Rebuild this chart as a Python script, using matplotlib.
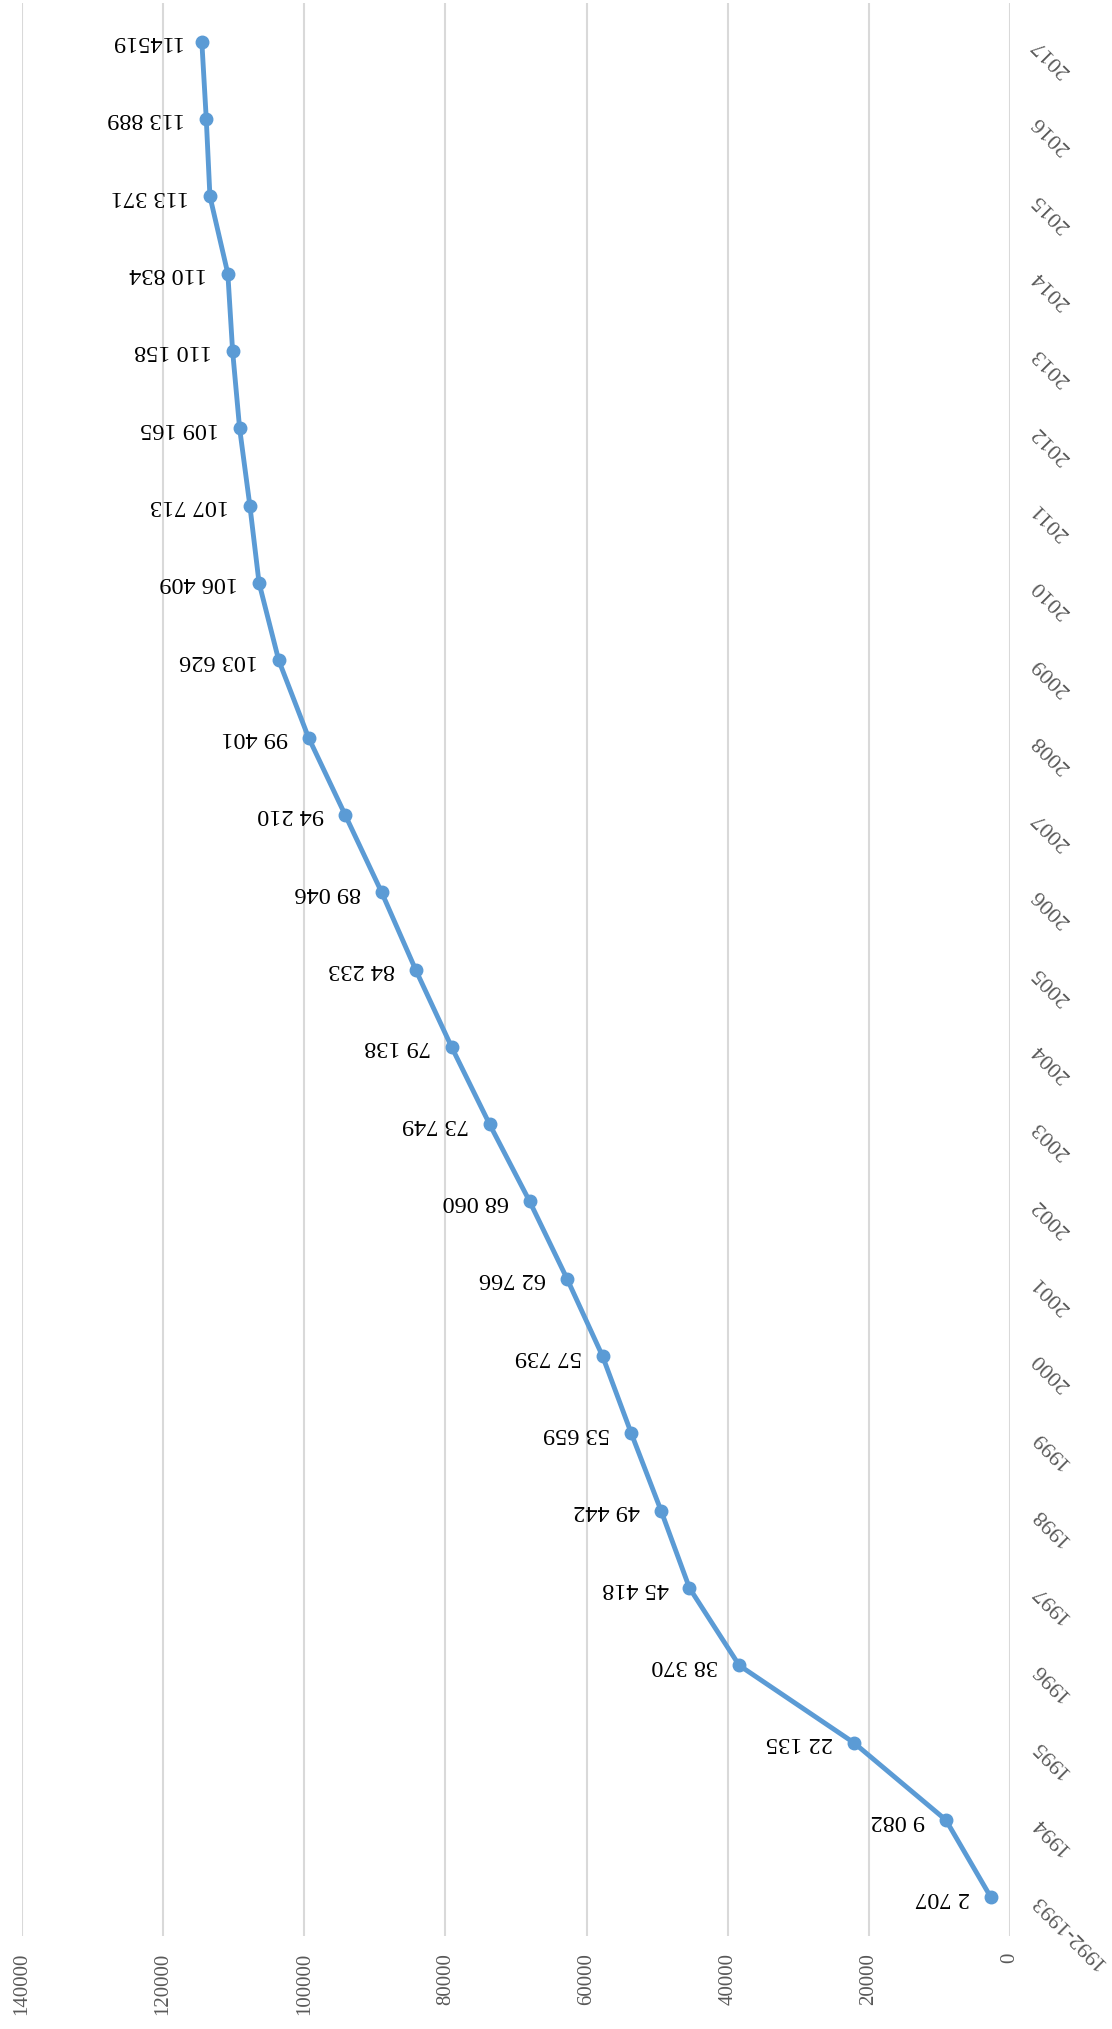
import matplotlib
matplotlib.use("Agg")
import matplotlib.pyplot as plt

years = ["1992-1993", "1994", "1995", "1996", "1997", "1998", "1999", "2000",
         "2001", "2002", "2003", "2004", "2005", "2006", "2007", "2008",
         "2009", "2010", "2011", "2012", "2013", "2014", "2015", "2016", "2017"]
values = [2707, 9082, 22135, 38370, 45418, 49442, 53659, 57739,
          62766, 68060, 73749, 79138, 84233, 89046, 94210, 99401,
          103626, 106409, 107713, 109165, 110158, 110834, 113371, 113889, 114519]
value_labels = ["2 707", "9 082", "22 135", "38 370", "45 418", "49 442", "53 659", "57 739",
                "62 766", "68 060", "73 749", "79 138", "84 233", "89 046", "94 210", "99 401",
                "103 626", "106 409", "107 713", "109 165", "110 158", "110 834", "113 371",
                "113 889", "114519"]
value_ticks = [0, 20000, 40000, 60000, 80000, 100000, 120000, 140000]

plt.rcParams["font.family"] = ["Liberation Serif", "DejaVu Serif"]

fig = plt.figure(figsize=(11.12, 20.29), dpi=100)
ax = fig.add_axes([22 / 1112, 1 - 1936 / 2029, (1010 - 22) / 1112, (1936 - 3) / 2029])

pos = list(range(len(years)))
ax.plot(values, pos, color="#5B9BD5", linewidth=3.5, marker="o", markersize=9, zorder=3)

# data labels, drawn upside down like the source
for v, p, lab in zip(values, pos, value_labels):
    ax.annotate(lab, (v, p), xytext=(-15, 0), textcoords="offset points",
                rotation=180, ha="right", va="center", fontsize=17.5, color="black")

ax.set_xlim(140000, 0)
ax.set_ylim(-0.5, len(years) - 0.5)
ax.set_xticks(value_ticks)
ax.set_xticklabels([str(t) for t in value_ticks], rotation=90, va="top", ha="center")
ax.tick_params(axis="x", length=0, pad=12, labelsize=15, labelcolor="#595959")

ax.yaxis.tick_right()
ax.set_yticks(pos)
ax.set_yticklabels(years)
for t in ax.get_yticklabels():
    t.set_rotation(135)
    t.set_rotation_mode("anchor")
    t.set_ha("right")
    t.set_va("center")
ax.tick_params(axis="y", length=0, pad=18, labelsize=16, labelcolor="#595959")

ax.grid(axis="x", color="#D9D9D9", linewidth=1.5)
ax.set_axisbelow(True)
for s in ax.spines.values():
    s.set_visible(False)

fig.savefig("out.png", dpi=100)
